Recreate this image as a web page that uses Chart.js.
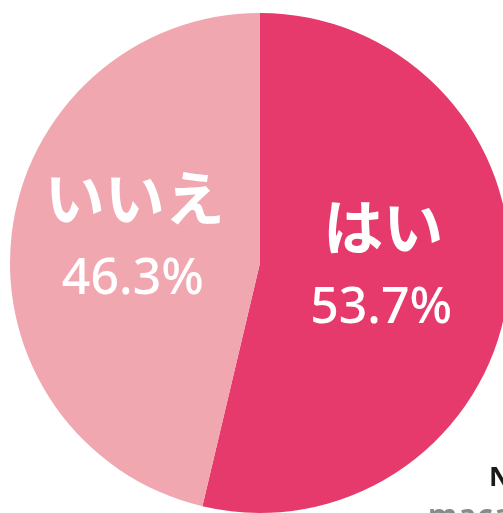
<!DOCTYPE html>
<html>
<head>
<meta charset="utf-8">
<script src="https://cdn.jsdelivr.net/npm/chart.js@4"></script>
<style>
html,body{margin:0;padding:0;background:#fff;overflow:hidden;width:503px;height:513px;}
#wrap{position:absolute;left:0;top:0;width:520px;height:526px;}
#n{position:absolute;left:489px;top:457px;font:bold 27px "Noto Sans",sans-serif;color:#1a1a1a;white-space:nowrap;}
#src{position:absolute;left:428px;top:494px;font:bold 30px "Noto Sans",sans-serif;color:#8a8a8a;white-space:nowrap;letter-spacing:1px;}
</style>
</head>
<body>
<div id="wrap"><canvas id="c" width="520" height="526"></canvas></div>
<div id="n">N=</div>
<div id="src">macaroni</div>
<script>
const categories = ["はい", "いいえ"];
const values = [53.7, 46.3];
const valueLabels = ["53.7%", "46.3%"];
const colors = ["#e53a6b", "#f0a7b0"];

const labelPlugin = {
  id: 'sliceLabels',
  afterDatasetsDraw(chart) {
    const ctx = chart.ctx;
    const meta = chart.getDatasetMeta(0);
    meta.data.forEach((arc, i) => {
      const p = arc.tooltipPosition();
      ctx.save();
      ctx.fillStyle = '#ffffff';
      ctx.textAlign = 'center';
      ctx.textBaseline = 'middle';
      ctx.font = 'bold 60px "Noto Sans CJK JP", sans-serif';
      ctx.fillText(categories[i], p.x - 1, p.y - 50);
      ctx.font = '500 50px "Noto Sans", sans-serif';
      ctx.fillText(valueLabels[i], p.x - 3, p.y + 31);
      ctx.restore();
    });
  }
};

new Chart(document.getElementById('c'), {
  type: 'pie',
  data: {
    labels: categories,
    datasets: [{
      data: values,
      backgroundColor: colors,
      borderWidth: 0
    }]
  },
  options: {
    responsive: false,
    animation: false,
    layout: { padding: 10 },
    plugins: {
      legend: { display: false },
      tooltip: { enabled: false }
    }
  },
  plugins: [labelPlugin]
});
</script>
</body>
</html>
